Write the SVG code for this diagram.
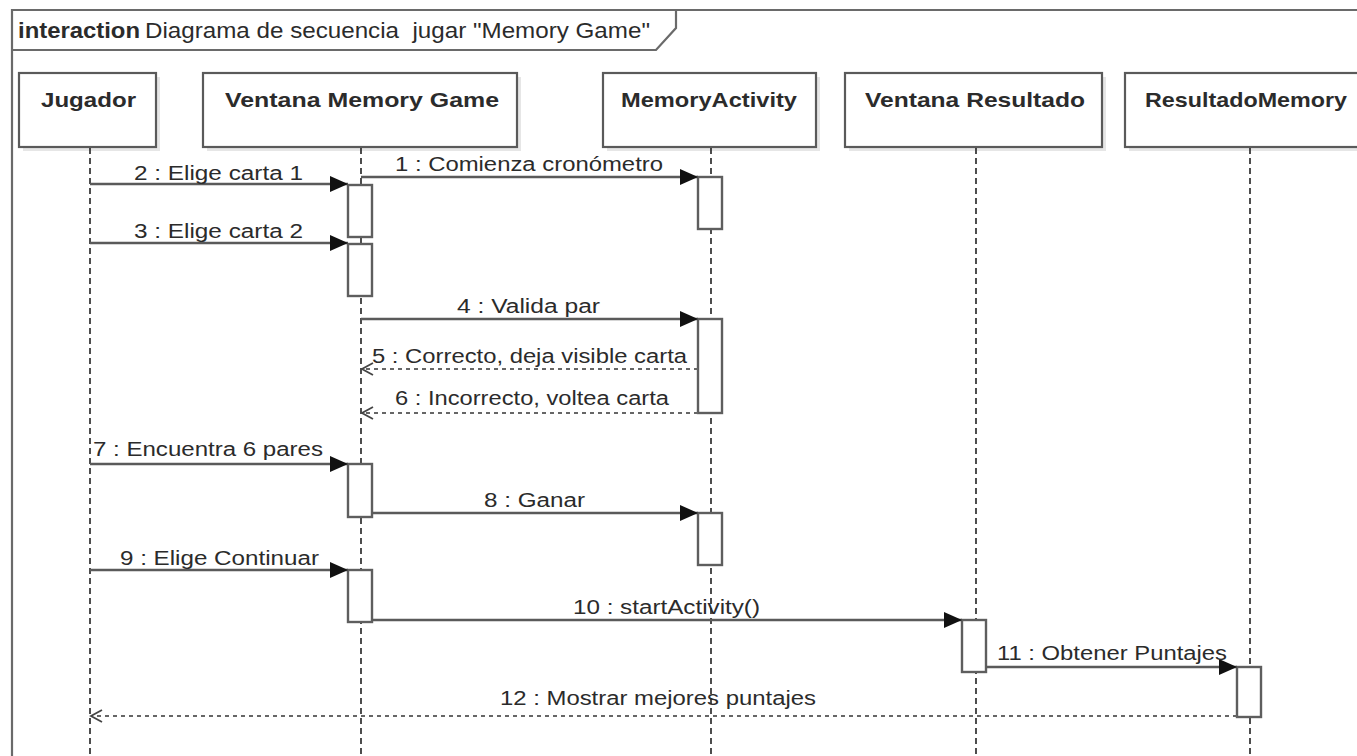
<svg xmlns="http://www.w3.org/2000/svg" width="1357" height="756" viewBox="0 0 1357 756">
  <style>
    text { font-family: "Liberation Sans", Arial, sans-serif; fill: #2b2b2b; }
    .hdr { font-size: 22px; }
    .hdrb { font-size: 22px; font-weight: bold; }
    .name { font-size: 21px; font-weight: bold; }
    .msg { font-size: 20px; }
    .box { fill: #ffffff; stroke: #5a5a5a; stroke-width: 2.2; }
    .shadow { fill: #e6e6e6; }
    .life { stroke: #222; stroke-width: 1.6; stroke-dasharray: 6 4; fill: none; }
    .act { fill: #ffffff; stroke: #5e5e5e; stroke-width: 2.4; }
    .call { stroke: #5a5a5a; stroke-width: 2.4; fill: none; marker-end: url(#solid); }
    .ret { stroke: #666; stroke-width: 2.2; stroke-dasharray: 4 4; fill: none; marker-end: url(#open); }
    .frame { fill: none; stroke: #6a6a6a; stroke-width: 2.2; }
  </style>
  <defs>
    <marker id="solid" markerUnits="userSpaceOnUse" markerWidth="20" markerHeight="18" refX="18" refY="8" orient="auto">
      <path d="M0,0 L18,8 L0,16 z" fill="#111"/>
    </marker>
    <marker id="open" markerUnits="userSpaceOnUse" markerWidth="14" markerHeight="16" refX="12" refY="7" orient="auto">
      <path d="M1,1 L12,7 L1,13" fill="none" stroke="#444" stroke-width="1.8"/>
    </marker>
  </defs>

  <rect width="1357" height="756" fill="#ffffff"/>

  <!-- interaction frame and its header tab -->
  <g id="frame">
    <path class="frame" d="M12,756 V10 H1360"/>
    <path class="frame" d="M12,50 H656 L676,28 V10"/>
    <text class="hdrb" x="18" y="38" textLength="122" lengthAdjust="spacingAndGlyphs">interaction</text>
    <text class="hdr" x="145" y="38" textLength="505" lengthAdjust="spacingAndGlyphs" xml:space="preserve">Diagrama de secuencia  jugar "Memory Game"</text>
  </g>

  <!-- lifelines -->
  <g id="jugador">
    <rect class="shadow" x="23" y="77" width="137" height="74"/>
    <rect class="box" x="19" y="73" width="137" height="74"/>
    <text class="name" x="41" y="107" textLength="95" lengthAdjust="spacingAndGlyphs">Jugador</text>
    <line class="life" x1="90" y1="148" x2="90" y2="756"/>
  </g>
  <g id="ventana-memory-game">
    <rect class="shadow" x="207" y="77" width="314" height="74"/>
    <rect class="box" x="203" y="73" width="314" height="74"/>
    <text class="name" x="225" y="107" textLength="274" lengthAdjust="spacingAndGlyphs">Ventana Memory Game</text>
    <line class="life" x1="361" y1="148" x2="361" y2="756"/>
  </g>
  <g id="memory-activity">
    <rect class="shadow" x="607" y="77" width="213" height="74"/>
    <rect class="box" x="603" y="73" width="213" height="74"/>
    <text class="name" x="621" y="107" textLength="176" lengthAdjust="spacingAndGlyphs">MemoryActivity</text>
    <line class="life" x1="711" y1="148" x2="711" y2="756"/>
  </g>
  <g id="ventana-resultado">
    <rect class="shadow" x="849" y="77" width="257" height="74"/>
    <rect class="box" x="845" y="73" width="257" height="74"/>
    <text class="name" x="865" y="107" textLength="220" lengthAdjust="spacingAndGlyphs">Ventana Resultado</text>
    <line class="life" x1="976" y1="148" x2="976" y2="756"/>
  </g>
  <g id="resultado-memory">
    <rect class="shadow" x="1129" y="77" width="240" height="74"/>
    <rect class="box" x="1125" y="73" width="240" height="74"/>
    <text class="name" x="1145" y="107" textLength="202" lengthAdjust="spacingAndGlyphs">ResultadoMemory</text>
    <line class="life" x1="1250" y1="148" x2="1250" y2="756"/>
  </g>

  <!-- execution specifications -->
  <g id="activations">
    <rect class="act" x="348" y="185" width="24" height="52"/>
    <rect class="act" x="348" y="244" width="24" height="52"/>
    <rect class="act" x="348" y="464" width="24" height="53"/>
    <rect class="act" x="348" y="570" width="24" height="52"/>
    <rect class="act" x="698" y="177" width="24" height="52"/>
    <rect class="act" x="698" y="319" width="24" height="94"/>
    <rect class="act" x="698" y="513" width="24" height="52"/>
    <rect class="act" x="962" y="620" width="24" height="52"/>
    <rect class="act" x="1237" y="667" width="24" height="50"/>
  </g>

  <!-- messages -->
  <g id="connectors">
    <line class="call" x1="361" y1="177" x2="698" y2="177"/>
    <line class="call" x1="90" y1="184" x2="348" y2="184"/>
    <line class="call" x1="90" y1="243" x2="348" y2="243"/>
    <line class="call" x1="361" y1="319" x2="698" y2="319"/>
    <line class="ret" x1="698" y1="369" x2="362" y2="369"/>
    <line class="ret" x1="698" y1="413" x2="362" y2="413"/>
    <line class="call" x1="90" y1="464" x2="348" y2="464"/>
    <line class="call" x1="372" y1="513" x2="698" y2="513"/>
    <line class="call" x1="90" y1="570" x2="348" y2="570"/>
    <line class="call" x1="372" y1="620" x2="962" y2="620"/>
    <line class="call" x1="986" y1="667" x2="1237" y2="667"/>
    <line class="ret" x1="1237" y1="716" x2="91" y2="716"/>

    <text class="msg" x="395" y="171" textLength="268" lengthAdjust="spacingAndGlyphs">1 : Comienza cronómetro</text>
    <text class="msg" x="134" y="180" textLength="169" lengthAdjust="spacingAndGlyphs">2 : Elige carta 1</text>
    <text class="msg" x="134" y="238" textLength="169" lengthAdjust="spacingAndGlyphs">3 : Elige carta 2</text>
    <text class="msg" x="457" y="313" textLength="143" lengthAdjust="spacingAndGlyphs">4 : Valida par</text>
    <text class="msg" x="372" y="363" textLength="315" lengthAdjust="spacingAndGlyphs">5 : Correcto, deja visible carta</text>
    <text class="msg" x="395" y="405" textLength="274" lengthAdjust="spacingAndGlyphs">6 : Incorrecto, voltea carta</text>
    <text class="msg" x="93" y="456" textLength="230" lengthAdjust="spacingAndGlyphs">7 : Encuentra 6 pares</text>
    <text class="msg" x="484" y="507" textLength="101" lengthAdjust="spacingAndGlyphs">8 : Ganar</text>
    <text class="msg" x="120" y="565" textLength="199" lengthAdjust="spacingAndGlyphs">9 : Elige Continuar</text>
    <text class="msg" x="573" y="614" textLength="187" lengthAdjust="spacingAndGlyphs">10 : startActivity()</text>
    <text class="msg" x="997" y="660" textLength="230" lengthAdjust="spacingAndGlyphs">11 : Obtener Puntajes</text>
    <text class="msg" x="500" y="705" textLength="316" lengthAdjust="spacingAndGlyphs">12 : Mostrar mejores puntajes</text>
  </g>
</svg>
